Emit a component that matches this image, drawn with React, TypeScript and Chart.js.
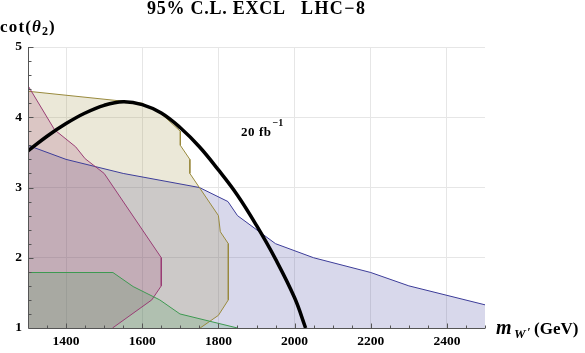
import React, { useEffect, useRef } from "react";
import { Chart, registerables } from "chart.js";
Chart.register(...registerables);

// ---- data (m_W' in GeV, cot(theta2)) ----
const xTickValues = [1400, 1600, 1800, 2000, 2200, 2400];
const yTickValues = [1, 2, 3, 4, 5];

const blueX = [1300, 1400, 1550, 1750, 1825, 1850, 1950, 2050, 2200, 2300, 2500, 2500, 1300];
const blueY = [3.6, 3.4, 3.2, 3.0, 2.8, 2.6, 2.2, 2.0, 1.79, 1.6, 1.33, 1.0, 1.0];

const oliveX = [1300, 1600, 1650, 1700, 1700, 1725, 1725, 1800, 1805, 1826, 1826, 1800, 1752, 1300];
const oliveY = [4.37, 4.2, 4.05, 3.8, 3.6, 3.4, 3.2, 2.6, 2.37, 2.2, 1.4, 1.18, 1.0, 1.0];

const redX = [1300, 1370, 1425, 1450, 1500, 1650, 1650, 1625, 1522, 1300];
const redY = [4.45, 3.82, 3.58, 3.41, 3.2, 2.0, 1.6, 1.4, 1.0, 1.0];

const greenX = [1300, 1523, 1576, 1646, 1699, 1850, 1300];
const greenY = [1.79, 1.79, 1.59, 1.4, 1.2, 1.0, 1.0];

const curveX = [1300, 1350, 1400, 1450, 1500, 1550, 1600, 1650, 1700, 1750, 1800, 1850, 1900, 1950, 2000, 2029];
const curveY = [3.52, 3.73, 3.91, 4.06, 4.17, 4.22, 4.18, 4.06, 3.85, 3.58, 3.25, 2.89, 2.46, 1.98, 1.43, 1.0];

const titleLeft = "95% C.L. EXCL";
const titleRight = "LHC\u22128";
const lumiLabel = "20 fb";
const lumiSup = "\u22121";

const SERIF = '"Liberation Serif", "Times New Roman", serif';

const pts = (xs: number[], ys: number[]) => xs.map((x, i) => ({ x, y: ys[i] }));

// fill polygon (closed along the plot edges) + border line (without the edge segments)
const regionFill = (label: string, xs: number[], ys: number[], rgb: string) => ({
  label: label + " region",
  data: pts(xs, ys),
  showLine: true,
  fill: "shape",
  borderColor: "rgba(0,0,0,0)",
  backgroundColor: `rgba(${rgb},0.2)`,
  borderWidth: 0,
  pointRadius: 0,
  tension: 0,
});
const regionEdge = (label: string, xs: number[], ys: number[], rgb: string, edgePts: number) => ({
  label: label + " boundary",
  data: pts(xs, ys).slice(0, xs.length - edgePts),
  showLine: true,
  fill: false,
  borderColor: `rgb(${rgb})`,
  borderWidth: 1,
  pointRadius: 0,
  tension: 0,
});

function drawFit(ctx: CanvasRenderingContext2D, text: string, x: number, y: number, width: number, font: string) {
  ctx.font = font;
  (ctx as any).letterSpacing = "0px";
  const w = ctx.measureText(text).width;
  const n = Array.from(text).length;
  const ls = n > 1 ? (width - w) / (n - 1) : 0;
  (ctx as any).letterSpacing = `${ls.toFixed(2)}px`;
  ctx.fillText(text, x, y);
  (ctx as any).letterSpacing = "0px";
}

const decor = {
  id: "decor",
  afterDatasetsDraw(chart: any) {
    const { ctx, chartArea: a, scales } = chart;
    const xs = scales.x, ys = scales.y;
    ctx.save();
    ctx.strokeStyle = "#555";
    ctx.lineWidth = 1;
    ctx.beginPath();
    const x0 = Math.round(a.left) + 0.5;
    const y0 = Math.round(a.bottom) + 0.5;
    ctx.moveTo(x0, a.top);
    ctx.lineTo(x0, y0);
    ctx.lineTo(a.right, y0);
    for (let v = 1350; v <= 2500; v += 50) {
      const px = Math.round(xs.getPixelForValue(v)) + 0.5;
      const len = v % 200 === 0 ? 5 : 3;
      ctx.moveTo(px, y0);
      ctx.lineTo(px, y0 - len);
    }
    for (let i = 1; i <= 20; i++) {
      const v = 1 + i * 0.2;
      const py = Math.round(ys.getPixelForValue(v)) + 0.5;
      const len = i % 5 === 0 ? 5 : 3;
      ctx.moveTo(x0, py);
      ctx.lineTo(x0 + len, py);
    }
    ctx.stroke();
    ctx.restore();
  },
  afterDraw(chart: any) {
    const ctx: CanvasRenderingContext2D = chart.ctx;
    ctx.save();
    ctx.fillStyle = "#000";
    ctx.textBaseline = "alphabetic";
    ctx.textAlign = "left";
    // title
    drawFit(ctx, titleLeft, 147, 13.5, 138, `bold 18px ${SERIF}`);
    drawFit(ctx, titleRight, 301, 13.5, 64, `bold 18px ${SERIF}`);
    // y axis title cot(theta_2)
    drawFit(ctx, "cot(", 0, 31.5, 31, `bold 17px ${SERIF}`);
    ctx.font = `italic bold 17px ${SERIF}`;
    ctx.fillText("\u03b8", 32, 31.5);
    ctx.font = `bold 12px ${SERIF}`;
    ctx.fillText("2", 42, 35);
    ctx.font = `bold 17px ${SERIF}`;
    ctx.fillText(")", 49, 31.5);
    // x axis title m_W'(GeV)
    ctx.font = `italic bold 20px ${SERIF}`;
    ctx.fillText("m", 496, 334);
    ctx.font = `italic bold 13px ${SERIF}`;
    ctx.fillText("W", 514, 338);
    ctx.fillText("\u2032", 527, 336);
    ctx.font = `bold 17px ${SERIF}`;
    ctx.fillText("(GeV)", 534, 334);
    // luminosity annotation
    drawFit(ctx, lumiLabel, 241, 136, 30, `bold 13px ${SERIF}`);
    ctx.font = `bold 10px ${SERIF}`;
    ctx.fillText(lumiSup, 272.5, 126);
    ctx.restore();
  },
};

export default function App() {
  const ref = useRef<HTMLCanvasElement | null>(null);
  useEffect(() => {
    if (!ref.current) return;
    const tickFont = { family: SERIF, size: 13.5, weight: "bold" as const };
    const chart = new Chart(ref.current, {
      type: "scatter",
      data: {
        datasets: [
          {
            label: "20 fb-1",
            data: pts(curveX, curveY),
            showLine: true,
            borderColor: "#000",
            borderWidth: 3.5,
            pointRadius: 0,
            tension: 0.4,
            fill: false,
          } as any,
          regionEdge("green", greenX, greenY, "61,153,81", 1),
          regionEdge("red", redX, redY, "153,61,116", 1),
          regionEdge("olive", oliveX, oliveY, "153,138,61", 1),
          regionEdge("blue", blueX, blueY, "61,61,153", 2),
          regionFill("green", greenX, greenY, "61,153,81"),
          regionFill("red", redX, redY, "153,61,116"),
          regionFill("olive", oliveX, oliveY, "153,138,61"),
          regionFill("blue", blueX, blueY, "61,61,153"),
        ],
      },
      options: {
        animation: false,
        responsive: false,
        maintainAspectRatio: false,
        layout: { padding: { top: 47, right: 100, bottom: 0, left: 0 } },
        plugins: { legend: { display: false }, tooltip: { enabled: false }, title: { display: false } },
        scales: {
          x: {
            type: "linear",
            min: 1300,
            max: 2500,
            afterFit: (s: any) => { s.height = 25; },
            afterBuildTicks: (s: any) => { s.ticks = xTickValues.map((v) => ({ value: v })); },
            grid: { color: "#e6e6e6", drawTicks: false },
            border: { display: false },
            ticks: { font: tickFont, color: "#000", padding: 5, autoSkip: false, maxRotation: 0, callback: (v: any) => String(v) },
          },
          y: {
            type: "linear",
            min: 1,
            max: 5,
            afterFit: (s: any) => { s.width = 28; },
            afterBuildTicks: (s: any) => { s.ticks = yTickValues.map((v) => ({ value: v })); },
            grid: { color: "#e6e6e6", drawTicks: false },
            border: { display: false },
            ticks: { font: tickFont, color: "#000", padding: 6, callback: (v: any) => String(v) },
          },
        },
      } as any,
      plugins: [decor],
    });
    return () => chart.destroy();
  }, []);
  return (
    <div style={{ position: "absolute", left: 0, top: 0, width: 585, height: 353, background: "#fff" }}>
      <canvas ref={ref} width={585} height={353} style={{ width: 585, height: 353, display: "block" }} />
    </div>
  );
}
